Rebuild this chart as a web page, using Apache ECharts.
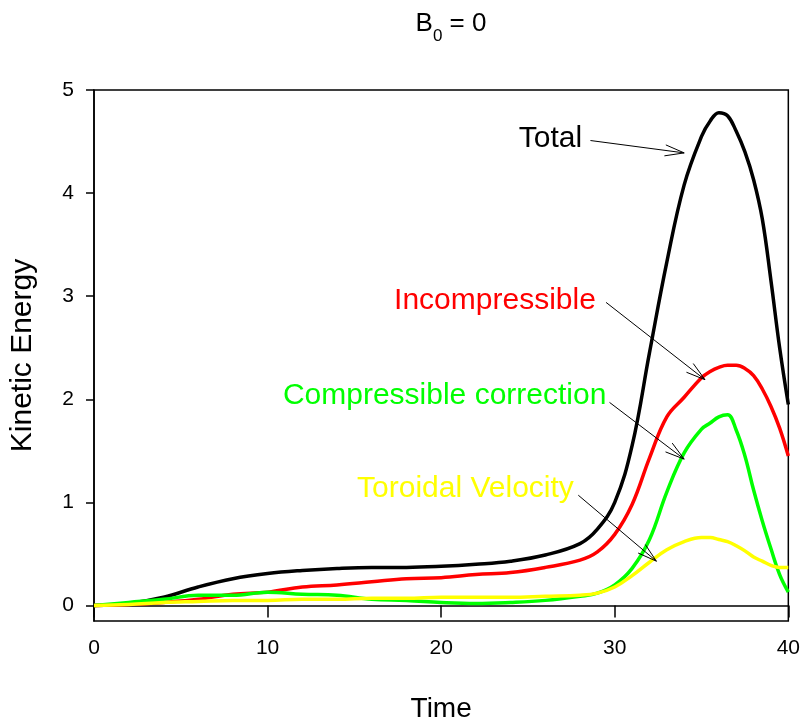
<!DOCTYPE html>
<html>
<head>
<meta charset="utf-8">
<script src="https://cdn.jsdelivr.net/npm/echarts@6/dist/echarts.min.js"></script>
<style>
  html, body { margin: 0; padding: 0; background: #fff; }
  #chart { width: 803px; height: 728px; }
</style>
</head>
<body>
<div id="chart"></div>
<script>
// --- Datos ---
const times = [0, 2, 4, 6, 8, 10, 12, 14, 16, 18, 20, 22, 24, 26, 28, 29, 30, 31, 32, 33, 34, 35, 35.5, 36, 36.5, 37, 37.5, 38, 38.5, 39, 39.5, 40];
const totalKE = [0, 0.02, 0.08, 0.18, 0.26, 0.31, 0.34, 0.36, 0.37, 0.37, 0.38, 0.40, 0.43, 0.49, 0.60, 0.74, 1.0, 1.55, 2.45, 3.33, 4.08, 4.55, 4.7, 4.78, 4.75, 4.6, 4.4, 4.13, 3.75, 3.15, 2.5, 1.95];
const incompKE = [0, 0.01, 0.03, 0.06, 0.11, 0.13, 0.18, 0.2, 0.23, 0.26, 0.27, 0.30, 0.32, 0.37, 0.44, 0.52, 0.69, 0.98, 1.43, 1.83, 2.02, 2.21, 2.27, 2.31, 2.33, 2.33, 2.3, 2.23, 2.1, 1.93, 1.72, 1.45];
const compKE = [0, 0.03, 0.06, 0.1, 0.1, 0.13, 0.11, 0.1, 0.06, 0.05, 0.03, 0.02, 0.03, 0.05, 0.09, 0.12, 0.2, 0.36, 0.64, 1.1, 1.48, 1.71, 1.77, 1.83, 1.85, 1.7, 1.45, 1.12, 0.82, 0.55, 0.3, 0.13];
const toroidalKE = [0, 0.01, 0.03, 0.04, 0.05, 0.05, 0.06, 0.06, 0.07, 0.07, 0.08, 0.08, 0.08, 0.09, 0.1, 0.12, 0.18, 0.29, 0.42, 0.54, 0.62, 0.66, 0.66, 0.64, 0.62, 0.58, 0.53, 0.47, 0.43, 0.39, 0.37, 0.37];

const xTicks = [0, 10, 20, 30, 40];
const yTicks = [0, 1, 2, 3, 4, 5];

// Anotaciones (en coordenadas de datos)
const annLabels = ['Total', 'Incompressible', 'Compressible correction', 'Toroidal Velocity'];
const annLabelAt = [[26.3, 4.53], [23.1, 2.96], [20.2, 2.03], [21.4, 1.13]];
const annArrowFrom = [[28.6, 4.51], [29.5, 2.94], [29.7, 1.97], [27.9, 1.07]];
const annArrowTo = [[34.0, 4.39], [35.2, 2.19], [34.0, 1.42], [32.4, 0.43]];
// ---------------------------------

const colors = ['#000000', '#ff0000', '#00ff00', '#ffff00'];
const FONT = 'Liberation Sans, Arial, sans-serif';

function pairs(vals) {
    return times.map((t, i) => [t, vals[i]]);
}

const chart = echarts.init(document.getElementById('chart'), null, { renderer: 'canvas' });

const lineSeries = [totalKE, incompKE, compKE, toroidalKE].map((vals, i) => ({
    name: annLabels[i],
    type: 'line',
    data: pairs(vals),
    smooth: 0.4,
    showSymbol: false,
    symbol: 'none',
    lineStyle: { color: colors[i], width: 3.5 },
    z: 3 + i
}));

const annData = annLabels.map((_, i) => [
    annLabelAt[i][0], annLabelAt[i][1],
    annArrowFrom[i][0], annArrowFrom[i][1],
    annArrowTo[i][0], annArrowTo[i][1]
]);

const annSeries = {
    type: 'custom',
    coordinateSystem: 'cartesian2d',
    clip: false,
    silent: true,
    z: 10,
    data: annData,
    renderItem: function (params, api) {
        const i = params.dataIndex;
        const txt = api.coord([api.value(0), api.value(1)]);
        const p1 = api.coord([api.value(2), api.value(3)]);
        const p2 = api.coord([api.value(4), api.value(5)]);
        const ang = Math.atan2(p2[1] - p1[1], p2[0] - p1[0]);
        const hl = 20, ha = 0.28;
        const h1 = [p2[0] - hl * Math.cos(ang - ha), p2[1] - hl * Math.sin(ang - ha)];
        const h2 = [p2[0] - hl * Math.cos(ang + ha), p2[1] - hl * Math.sin(ang + ha)];
        const ls = { stroke: '#000', lineWidth: 1 };
        return {
            type: 'group',
            children: [
                { type: 'text', x: txt[0], y: txt[1], style: {
                    text: annLabels[i], fill: colors[i], font: '30px ' + FONT,
                    align: 'center', verticalAlign: 'middle' } },
                { type: 'line', shape: { x1: p1[0], y1: p1[1], x2: p2[0], y2: p2[1] }, style: ls },
                { type: 'line', shape: { x1: h1[0], y1: h1[1], x2: p2[0], y2: p2[1] }, style: ls },
                { type: 'line', shape: { x1: h2[0], y1: h2[1], x2: p2[0], y2: p2[1] }, style: ls }
            ]
        };
    }
};

chart.setOption({
    backgroundColor: '#ffffff',
    animation: false,
    title: {
        text: '{b|B}{s|0}{b| = 0}',
        left: 446,
        top: 6,
        textAlign: 'center',
        textStyle: {
            fontWeight: 'normal',
            rich: {
                b: { fontFamily: FONT, fontSize: 26, fontWeight: 'normal', color: '#000', lineHeight: 34, verticalAlign: 'top' },
                s: { fontFamily: FONT, fontSize: 17, fontWeight: 'normal', color: '#000', lineHeight: 34, verticalAlign: 'bottom' }
            }
        }
    },
    grid: {
        left: 93, right: 10, top: 90, bottom: 88,
        show: true, borderColor: '#000', borderWidth: 1.5,
        containLabel: false
    },
    xAxis: {
        type: 'value',
        min: 0, max: 40, interval: 10,
        name: 'Time',
        nameLocation: 'middle',
        nameGap: 74,
        nameTextStyle: { fontFamily: FONT, fontSize: 28, color: '#000' },
        splitLine: { show: false },
        axisLine: { show: true, lineStyle: { color: '#000', width: 1.5 } },
        axisTick: { show: true, inside: false, length: 12, lineStyle: { color: '#000', width: 1.5 }, customValues: xTicks },
        axisLabel: { fontFamily: FONT, fontSize: 21, color: '#000', margin: 17, customValues: xTicks }
    },
    yAxis: {
        type: 'value',
        min: -0.15, max: 5,
        name: 'Kinetic Energy',
        nameLocation: 'middle',
        nameGap: 56,
        nameTextStyle: { fontFamily: FONT, fontSize: 30, color: '#000' },
        splitLine: { show: false },
        axisLine: { show: true, lineStyle: { color: '#000', width: 1.5 } },
        axisTick: { show: true, inside: false, length: 8, lineStyle: { color: '#000', width: 1.5 }, customValues: yTicks },
        axisLabel: { fontFamily: FONT, fontSize: 21, color: '#000', margin: 20, customValues: yTicks }
    },
    series: lineSeries.concat([annSeries])
});
</script>
</body>
</html>
